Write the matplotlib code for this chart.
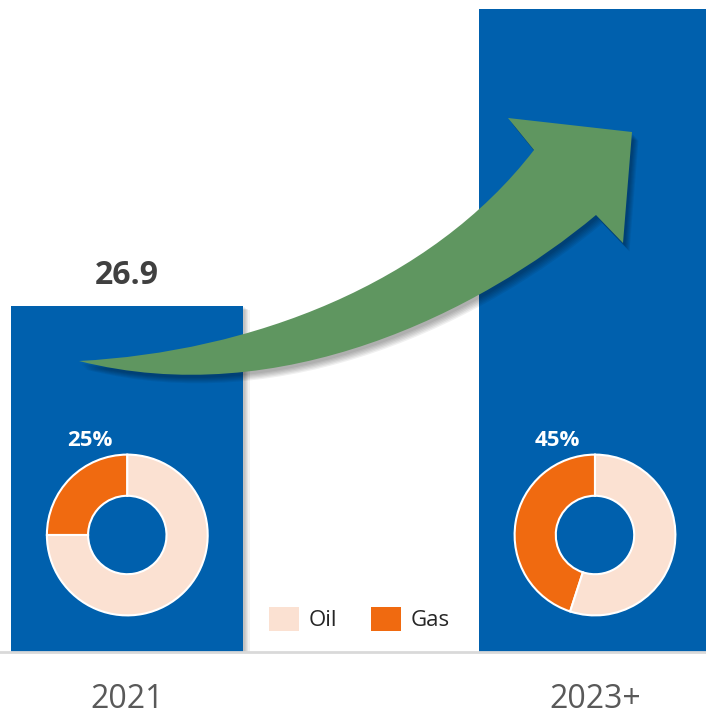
import matplotlib
matplotlib.use("Agg")
import matplotlib.pyplot as plt
import numpy as np
from matplotlib.path import Path
from matplotlib.patches import PathPatch, Patch

plt.rcParams['font.family'] = ['Open Sans', 'DejaVu Sans']

# ---------------- data ----------------
categories = ["2021", "2023+"]
values = [26.9, 50.0]
value_labels = ["26.9", ""]
gas_share = [25, 45]          # percent gas in each period
oil_share = [75, 55]
mix_labels = ["Oil", "Gas"]

BLUE = "#0060AD"
OIL_C = "#FBE1D2"
GAS_C = "#F06A10"
GREEN = "#5F9660"

W, H = 706, 717
fig = plt.figure(figsize=(W / 100, H / 100), dpi=100)
fig.patch.set_facecolor("white")

base_px = 652
ax = fig.add_axes([0, (H - base_px) / H, 1, base_px / H])
px_per_unit = 346 / 26.9
ax.set_ylim(0, base_px / px_per_unit)
spacing = 467.7
c0 = 127.3
ax.set_xlim(-c0 / spacing, (W - c0) / spacing)
x = np.arange(len(categories))
bw = 232 / spacing

# bar shadows (soft)
for k in range(5):
    dx = (1.5 + k * 1.2) / spacing
    dy = (1.0 + k * 0.8) / px_per_unit
    ax.bar(x + dx, np.array(values) - dy, width=bw,
           color="black", alpha=0.05, zorder=1, linewidth=0)
ax.bar(x, values, width=bw, color=BLUE, zorder=2, linewidth=0)

for xi, v, lab in zip(x, values, value_labels):
    if lab:
        ax.annotate(lab, xy=(xi, v), xytext=(0, 15.8), textcoords="offset points",
                    ha="center", va="baseline", fontsize=23, fontweight="bold",
                    color="#404040")

ax.axhline(0, color="#D9D9D9", lw=2, zorder=3, clip_on=False)
ax.set_xticks(x, categories)
ax.tick_params(axis="x", length=0, pad=22, labelsize=23, labelcolor="#595959")
ax.set_yticks([])
for s in ax.spines.values():
    s.set_visible(False)

handles = [Patch(facecolor=OIL_C, edgecolor="none", label=mix_labels[0]),
           Patch(facecolor=GAS_C, edgecolor="none", label=mix_labels[1])]
leg = ax.legend(handles=handles, loc="center", ncol=2,
                bbox_to_anchor=(359.5 / W, (H - 619) / H),
                bbox_transform=fig.transFigure, frameon=False, fontsize=16,
                handlelength=1.35, handleheight=1.3, handletextpad=0.45,
                columnspacing=1.5, borderpad=0, borderaxespad=0)
for t in leg.get_texts():
    t.set_color("#262626")

# ---------------- arrow overlay ----------------
aax = fig.add_axes([0, 0, 1, 1], zorder=5)
aax.set_xlim(0, W)
aax.set_ylim(H, 0)
aax.axis("off")
aax.patch.set_alpha(0)

verts = [
    (79, 361),
    (250, 352), (430, 285), (534, 150),   # upper edge
    (508, 118),                           # left barb
    (632, 132),                           # tip
    (623, 243),                           # right barb
    (596, 215),                           # lower notch
    (480, 312), (280, 412), (79, 361),    # lower edge
    (79, 361),
]
codes = [Path.MOVETO,
         Path.CURVE4, Path.CURVE4, Path.CURVE4,
         Path.LINETO, Path.LINETO, Path.LINETO, Path.LINETO,
         Path.CURVE4, Path.CURVE4, Path.CURVE4,
         Path.CLOSEPOLY]
arrow_path = Path(verts, codes)
for k in range(6):
    off = np.array([2.0 + k * 0.9, 3.0 + k * 1.1])
    sp = Path(np.array(verts) + off, codes)
    aax.add_patch(PathPatch(sp, facecolor="black", edgecolor="none", alpha=0.06))
aax.add_patch(PathPatch(arrow_path, facecolor=GREEN, edgecolor="none"))

# ---------------- donuts ----------------
R = 82
donut_cy = 535
fig.canvas.draw()
for i in range(len(categories)):
    cx_px = ax.transData.transform((x[i], 0))[0]
    dax = fig.add_axes([(cx_px - R) / W, (H - donut_cy - R) / H, 2 * R / W, 2 * R / H],
                       zorder=6)
    dax.pie([gas_share[i], oil_share[i]], colors=[GAS_C, OIL_C], startangle=90,
            counterclock=True, radius=1,
            wedgeprops=dict(width=42 / R, edgecolor="white", linewidth=1.5))
    dax.set_xlim(-1.02, 1.02)
    dax.set_ylim(-1.02, 1.02)
    dax.set_aspect("equal")
    dax.axis("off")
    dax.text(-38 / R, 91 / R, f"{gas_share[i]}%", ha="center", va="baseline",
             fontsize=16, fontweight="bold", color="white", clip_on=False)

fig.savefig("out.png", dpi=100, facecolor="white")
